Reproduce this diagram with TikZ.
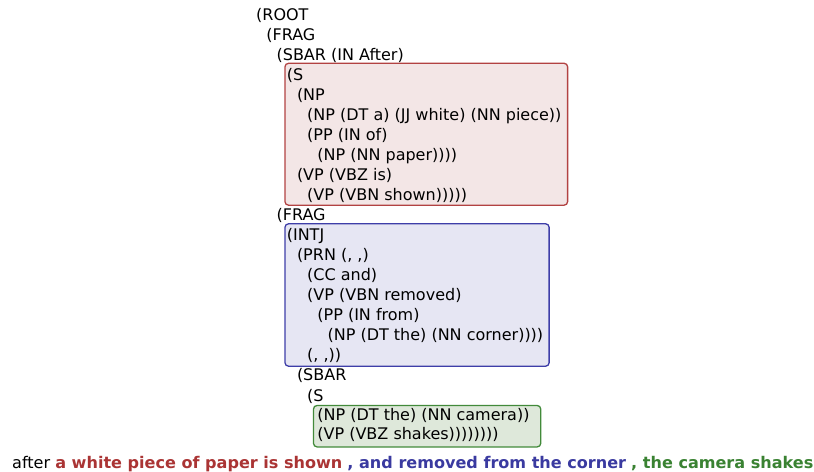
\documentclass[tikz,border=0pt]{standalone}
\usepackage{fontspec}
\setmainfont{DejaVu Sans}
\usetikzlibrary{fit,backgrounds}

\definecolor{redline}{RGB}{178,66,66}
\definecolor{redfill}{RGB}{243,230,230}
\definecolor{blueline}{RGB}{62,62,168}
\definecolor{bluefill}{RGB}{230,230,243}
\definecolor{greenline}{RGB}{66,138,58}
\definecolor{greenfill}{RGB}{222,232,218}
\definecolor{redtext}{RGB}{170,52,52}
\definecolor{bluetext}{RGB}{58,58,160}
\definecolor{greentext}{RGB}{58,130,50}

\begin{document}
\begin{tikzpicture}
    [
        x=1bp, y=-1bp,
        line/.style={anchor=base west, inner sep=0pt, text height=12.2bp, text depth=2.1bp,
                     font=\fontsize{16bp}{20bp}\selectfont},
        box/.style={draw=#1line, fill=#1fill, rounded corners=3.5bp, line width=1.3bp, inner sep=0pt},
    ]
    \useasboundingbox (0,0) rectangle (814,472);

    % parse tree
    \node (t0)  at (256,20.5)    [line] {(ROOT};
    \node (t1)  at (266.2,40.5)  [line] {(FRAG};
    \node (t2)  at (276.4,60.5)  [line] {(SBAR (IN After)};
    \node (t3)  at (286.6,80.5)  [line] {(S};
    \node (t4)  at (296.8,100.5) [line] {(NP};
    \node (t5)  at (307,120.5)   [line] {(NP (DT a) (JJ white) (NN piece))};
    \node (t6)  at (307,140.5)   [line] {(PP (IN of)};
    \node (t7)  at (317.2,160.5) [line] {(NP (NN paper))))};
    \node (t8)  at (296.8,180.5) [line] {(VP (VBZ is)};
    \node (t9)  at (307,200.5)   [line] {(VP (VBN shown)))))};
    \node (t10) at (276.4,220.5) [line] {(FRAG};
    \node (t11) at (286.6,240.5) [line] {(INTJ};
    \node (t12) at (296.8,260.5) [line] {(PRN (, ,)};
    \node (t13) at (307,280.5)   [line] {(CC and)};
    \node (t14) at (307,300.5)   [line] {(VP (VBN removed)};
    \node (t15) at (317.2,320.5) [line] {(PP (IN from)};
    \node (t16) at (327.4,340.5) [line] {(NP (DT the) (NN corner))))};
    \node (t17) at (307,360.5)   [line] {(, ,))};
    \node (t18) at (296.8,381)   [line] {(SBAR};
    \node (t19) at (307,401)     [line] {(S};
    \node (t20) at (317.2,420)   [line] {(NP (DT the) (NN camera))};
    \node (t21) at (317.2,439.5) [line] {(VP (VBZ shakes))))))))};

    % highlighted spans
    \begin{scope}[on background layer]
        \node (redbox)   [box=red,   fit={([shift={(-1.6,-4.8)}]t3.north west) ([xshift=6bp]t5.east) ([yshift=-2.4bp]t9.south)}] {};
        \node (bluebox)  [box=blue,  fit={([shift={(-1.6,-4.3)}]t11.north west) ([xshift=5.7bp]t16.east) ([yshift=-3.4bp]t17.south)}] {};
        \node (greenbox) [box=green, fit={([shift={(-3.7,-2.1)}]t20.north west) ([xshift=11bp]t20.east) ([yshift=-5.1bp]t21.south)}] {};
    \end{scope}

    % sentence
    \node (sent) at (12,468.5) [line, text height=, text depth=, font=\fontsize{16.06bp}{20bp}\selectfont] {after
        \textbf{\textcolor{redtext}{a white piece of paper is shown}}
        \textbf{\textcolor{bluetext}{, and removed from the corner}}
        \textbf{\textcolor{greentext}{, the camera shakes}}};

\end{tikzpicture}
\end{document}
